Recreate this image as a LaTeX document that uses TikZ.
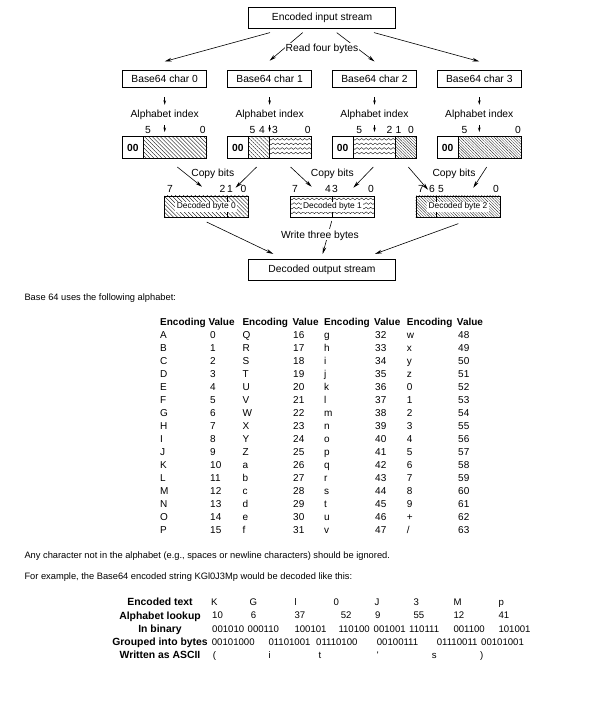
\documentclass[tikz,border=0pt]{standalone}
\usepackage{fontspec}
\setmainfont{Liberation Sans}
\usetikzlibrary{arrows.meta,calc,patterns.meta,decorations.pathmorphing}

\newcommand\diagfont{\fontsize{10.3}{12}\selectfont}
\newcommand\bytefont{\fontsize{8.4}{10}\selectfont}
\newcommand\bodyfont{\fontsize{9.3}{11}\selectfont}
\newcommand\tabfont{\fontsize{10}{12}\selectfont}
\newcommand\exfont{\fontsize{10.4}{12}\selectfont}
\newcommand\exdata{\fontsize{9.6}{12}\selectfont}

\begin{document}
\begin{tikzpicture}[x=1pt, y=-1pt,
    stream/.style={rectangle, draw, line width=0.6pt, minimum width=147.4pt, minimum height=21pt, font=\diagfont},
    charbox/.style={rectangle, draw, line width=0.6pt, minimum width=84pt, minimum height=17.3pt, font=\diagfont},
    bitbox/.style={rectangle, draw, line width=0.6pt, minimum width=84pt, minimum height=21.6pt},
    bytebox/.style={rectangle, draw, line width=0.6pt, minimum width=84pt, minimum height=21.3pt},
    tag/.style={font=\diagfont, inner sep=1pt, text height=7.4pt, text depth=0pt},
    num/.style={font=\diagfont, inner sep=0pt, text height=7.4pt, text depth=0pt},
    zeros/.style={font=\diagfont\bfseries, inner sep=0pt},
    bytetext/.style={font=\bytefont, fill=white, inner xsep=1.5pt, inner ysep=1.2pt, text height=6.2pt, text depth=1.8pt},
    arrow/.style={-{Stealth[length=7pt,width=3.6pt]}, line width=0.6pt},
    stub/.style={-{Stealth[length=4.5pt,width=2.6pt]}, line width=0.6pt},
    hatch/.style={pattern={Lines[angle=-45,distance=2.8pt,line width=0.35pt]}},
    dense/.style={pattern={Lines[angle=-45,distance=2pt,line width=0.25pt]}},
    wave/.style={decorate, decoration={snake, amplitude=0.9pt, segment length=4.5pt}, line width=0.35pt},
    body/.style={font=\bodyfont, anchor=west, inner sep=0pt, text height=6.7pt, text depth=0pt},
    head/.style={font=\tabfont\bfseries, anchor=west, inner sep=0pt, text height=7.2pt, text depth=0pt},
    cell/.style={font=\tabfont, anchor=west, inner sep=0pt, text height=7.2pt, text depth=0pt},
    rowhead/.style={font=\exfont\bfseries, inner sep=0pt, text height=7.4pt, text depth=0pt},
    excell/.style={font=\exdata, anchor=west, inner sep=0pt, text height=7pt, text depth=0pt}
]
    \useasboundingbox (0,0) rectangle (596,701);

    % Input stream
    \node[stream] (in) at (322,17.8) {Encoded input stream};

    % Base64 characters
    \node[charbox] (c0) at (164.7,78.7) {Base64 char 0};
    \node[charbox] (c1) at (269.6,78.7) {Base64 char 1};
    \node[charbox] (c2) at (374.5,78.7) {Base64 char 2};
    \node[charbox] (c3) at (479.3,78.7) {Base64 char 3};

    % Read arrows
    \draw[arrow] ($(in.south)+(-52,4)$) -- ($(c0.north)+(0,-8.3)$);
    \draw[arrow] ($(in.south)+(-19.3,4)$) -- ($(c1.north)+(0,-9)$);
    \draw[arrow] ($(in.south)+(14.7,4)$) -- ($(c2.north)+(0,-8.3)$);
    \draw[arrow] ($(in.south)+(52,4)$) -- ($(c3.north)+(0,-8.3)$);
    \node[tag, fill=white, inner ysep=2pt] (read) at (322,48.3) {Read four bytes};

    % Alphabet index
    \node[tag] (i0) at (164.7,113.3) {Alphabet index};
    \node[tag] (i1) at (269.6,113.3) {Alphabet index};
    \node[tag] (i2) at (374.5,113.3) {Alphabet index};
    \node[tag] (i3) at (479.3,113.3) {Alphabet index};
    \foreach \k in {0,1,2,3}
        \draw[stub] ($(c\k.south)+(0,9.4)$) -- ($(i\k.north)+(0,-3.6)$);

    % Six bit values
    \node[bitbox] (b0) at (164.7,147.5) {};
    \node[bitbox] (b1) at (269.6,147.5) {};
    \node[bitbox] (b2) at (374.5,147.5) {};
    \node[bitbox] (b3) at (479.3,147.5) {};

    \fill[hatch] ([xshift=21pt]b0.north west) rectangle (b0.south east);
    \fill[hatch] ([xshift=21pt]b1.north west) rectangle ([xshift=42pt]b1.south west);
    \begin{scope}
        \clip ([xshift=42pt]b1.north west) rectangle (b1.south east);
        \foreach \d in {2.9,7.5,12.1,16.7}
            \draw[wave] ($(b1.north west)+(40,\d)$) -- ++(50,0);
    \end{scope}
    \begin{scope}
        \clip ([xshift=21pt]b2.north west) rectangle ([xshift=63pt]b2.south west);
        \foreach \d in {2.9,7.5,12.1,16.7}
            \draw[wave] ($(b2.north west)+(19,\d)$) -- ++(50,0);
    \end{scope}
    \fill[dense] ([xshift=63pt]b2.north west) rectangle (b2.south east);
    \fill[dense] ([xshift=21pt]b3.north west) rectangle (b3.south east);

    \foreach \k in {0,1,2,3} {
        \draw[line width=0.6pt] ([xshift=21pt]b\k.north west) -- ([xshift=21pt]b\k.south west);
        \node[zeros] (z\k) at ([xshift=10.5pt]b\k.west) {00};
    }
    \draw[line width=0.6pt] ([xshift=42pt]b1.north west) -- ([xshift=42pt]b1.south west);
    \draw[line width=0.6pt] ([xshift=63pt]b2.north west) -- ([xshift=63pt]b2.south west);

    \foreach \k in {0,1,2,3}
        \draw[stub] ($(i\k.south)+(0,7)$) -- ($(b\k.north)+(0,-4.4)$);

    % Bit numbers
    \node[num] (b0n5) at (148,129.5) {5};
    \node[num] (b0n0) at (202.7,129.5) {0};
    \node[num] (b1n5) at (252.5,129.5) {5};
    \node[num] (b1n4) at (262,129.5) {4};
    \node[num] (b1n3) at (275,129.5) {3};
    \node[num] (b1n0) at (307.7,129.5) {0};
    \node[num] (b2n5) at (359.3,129.5) {5};
    \node[num] (b2n2) at (389.5,129.5) {2};
    \node[num] (b2n1) at (398.5,129.5) {1};
    \node[num] (b2n0) at (411,129.5) {0};
    \node[num] (b3n5) at (464.5,129.5) {5};
    \node[num] (b3n0) at (518,129.5) {0};

    % Decoded bytes
    \node[bytebox] (byte0) at (206.3,206.7) {};
    \node[bytebox] (byte1) at (332.5,206.7) {};
    \node[bytebox] (byte2) at (458,206.7) {};

    \fill[hatch] (byte0.north west) rectangle (byte0.south east);
    \begin{scope}
        \clip (byte1.north west) rectangle (byte1.south east);
        \foreach \d in {3.2,7.8,12.4,17}
            \draw[wave] ($(byte1.north west)+(-2,\d)$) -- ++(90,0);
    \end{scope}
    \fill[dense] (byte2.north west) rectangle (byte2.south east);

    \draw[line width=0.6pt] ([xshift=63pt]byte0.north west) -- ([xshift=63pt]byte0.south west);
    \draw[line width=0.6pt] ([xshift=42pt]byte1.north west) -- ([xshift=42pt]byte1.south west);
    \draw[line width=0.6pt] ([xshift=21pt]byte2.north west) -- ([xshift=21pt]byte2.south west);

    \node[bytetext] (d0) at (byte0.center) {Decoded byte 0};
    \node[bytetext] (d1) at (byte1.center) {Decoded byte 1};
    \node[bytetext] (d2) at (byte2.center) {Decoded byte 2};

    % Byte bit numbers
    \node[num] (y0n7) at (170,189) {7};
    \node[num] (y0n2) at (222.5,189) {2};
    \node[num] (y0n1) at (230,189) {1};
    \node[num] (y0n0) at (243.5,189) {0};
    \node[num] (y1n7) at (295,189) {7};
    \node[num] (y1n4) at (328,189) {4};
    \node[num] (y1n3) at (335,189) {3};
    \node[num] (y1n0) at (371,189) {0};
    \node[num] (y2n7) at (421,189) {7};
    \node[num] (y2n6) at (432,189) {6};
    \node[num] (y2n5) at (441,189) {5};
    \node[num] (y2n0) at (496,189) {0};

    % Copy arrows
    \draw[arrow] ($(b0.south)+(12.6,8.4)$) -- ($(byte0.north)+(-4.3,-9)$);
    \draw[arrow] ($(b1.south)+(-13,8.4)$) -- ($(byte0.north)+(29.2,-8)$);
    \draw[arrow] ($(b1.south)+(21,8.4)$) -- ($(byte1.north)+(-20.8,-9)$);
    \draw[arrow] ($(b2.south)+(-1.2,8.4)$) -- ($(byte1.north)+(20.8,-8)$);
    \draw[arrow] ($(b2.south)+(33.8,8.4)$) -- ($(byte2.north)+(-30,-6)$);
    \draw[arrow] ($(b3.south)+(7.4,8.4)$) -- ($(byte2.north)+(15.3,-8)$);
    \node[tag] (cp0) at (212.8,172.3) {Copy bits};
    \node[tag] (cp1) at (332.3,172.3) {Copy bits};
    \node[tag] (cp2) at (454,172.3) {Copy bits};

    % Output stream
    \node[stream] (out) at (322,270) {Decoded output stream};
    \draw[arrow] ($(byte0.south)+(0.4,4.4)$) -- ($(out.north)+(-48.7,-5.3)$);
    \draw[arrow] ($(byte1.south)+(-0.8,3.4)$) -- ($(out.north)+(0.7,-5.3)$);
    \draw[arrow] ($(byte2.south)+(0.3,6)$) -- ($(out.north)+(53,-5.3)$);
    \node[tag, fill=white, inner ysep=2pt] (write) at (320,234.3) {Write three bytes};

    % Alphabet table
    \node[body] (intro) at (24.3,297.3) {Base 64 uses the following alphabet:};
    \foreach \x/\v [count=\k] in {160/208.3, 242.3/292.3, 324/374, 406.7/456.7} {
        \node[head] (enc\k) at (\x,322) {Encoding};
        \node[head] (val\k) at (\v,322) {Value};
    }
    \foreach \ch [count=\i from 0] in {A,B,C,D,E,F,G,H,I,J,K,L,M,N,O,P,
                                      Q,R,S,T,U,V,W,X,Y,Z,a,b,c,d,e,f,
                                      g,h,i,j,k,l,m,n,o,p,q,r,s,t,u,v,
                                      w,x,y,z,0,1,2,3,4,5,6,7,8,9,+,{/}} {
        \pgfmathtruncatemacro\col{\i/16}
        \pgfmathtruncatemacro\row{mod(\i,16)}
        \pgfmathsetmacro\ex{{160,242.3,324,406.7}[\col]}
        \pgfmathsetmacro\vx{{210,293,375,458}[\col]}
        \node[cell] (ch\i) at (\ex,{335+13*\row}) {\ch};
        \node[cell] (cv\i) at (\vx,{335+13*\row}) {\i};
    }

    % Notes
    \node[body] (note) at (24.3,555) {Any character not in the alphabet (e.g., spaces or newline characters) should be ignored.};
    \node[body] (example) at (24.3,576.5) {For example, the Base64 encoded string KGl0J3Mp would be decoded like this:};

    % Worked example
    \node[rowhead] (r1) at (160,602) {Encoded text};
    \node[rowhead] (r2) at (160,615.3) {Alphabet lookup};
    \node[rowhead] (r3) at (160,628.6) {In binary};
    \node[rowhead] (r4) at (160,641.9) {Grouped into bytes};
    \node[rowhead] (r5) at (160,655.2) {Written as ASCII};

    \foreach \x/\t [count=\k] in {211/K, 249.3/G, 294.3/l, 333.3/0, 374.3/J, 413.3/3, 453.3/M, 498.3/p}
        \node[excell] (tx\k) at (\x,602) {\t};
    \foreach \x/\t [count=\k] in {212/10, 250.7/6, 294.3/37, 340.7/52, 375/9, 413.3/55, 453.3/12, 498.3/41}
        \node[excell] (lk\k) at (\x,615.3) {\t};
    \foreach \x/\t [count=\k] in {212/001010, 247.5/000110, 294.3/100101, 338.3/110100, 373.5/001001, 409/110111, 453.3/001100, 498.3/101001}
        \node[excell] (bn\k) at (\x,628.6) {\t};
    \foreach \x/\t [count=\k] in {211.7/00101000, 268.3/01101001, 316/01110100, 376.7/00100111, 436.7/01110011, 481/00101001}
        \node[excell] (gb\k) at (\x,641.9) {\t};
    \foreach \x/\t [count=\k] in {212.7/(, 268.3/i, 318.3/t, 376.7/\textquotesingle, 431.7/s, 480/)}
        \node[excell] (as\k) at (\x,655.2) {\t};
\end{tikzpicture}
\end{document}
